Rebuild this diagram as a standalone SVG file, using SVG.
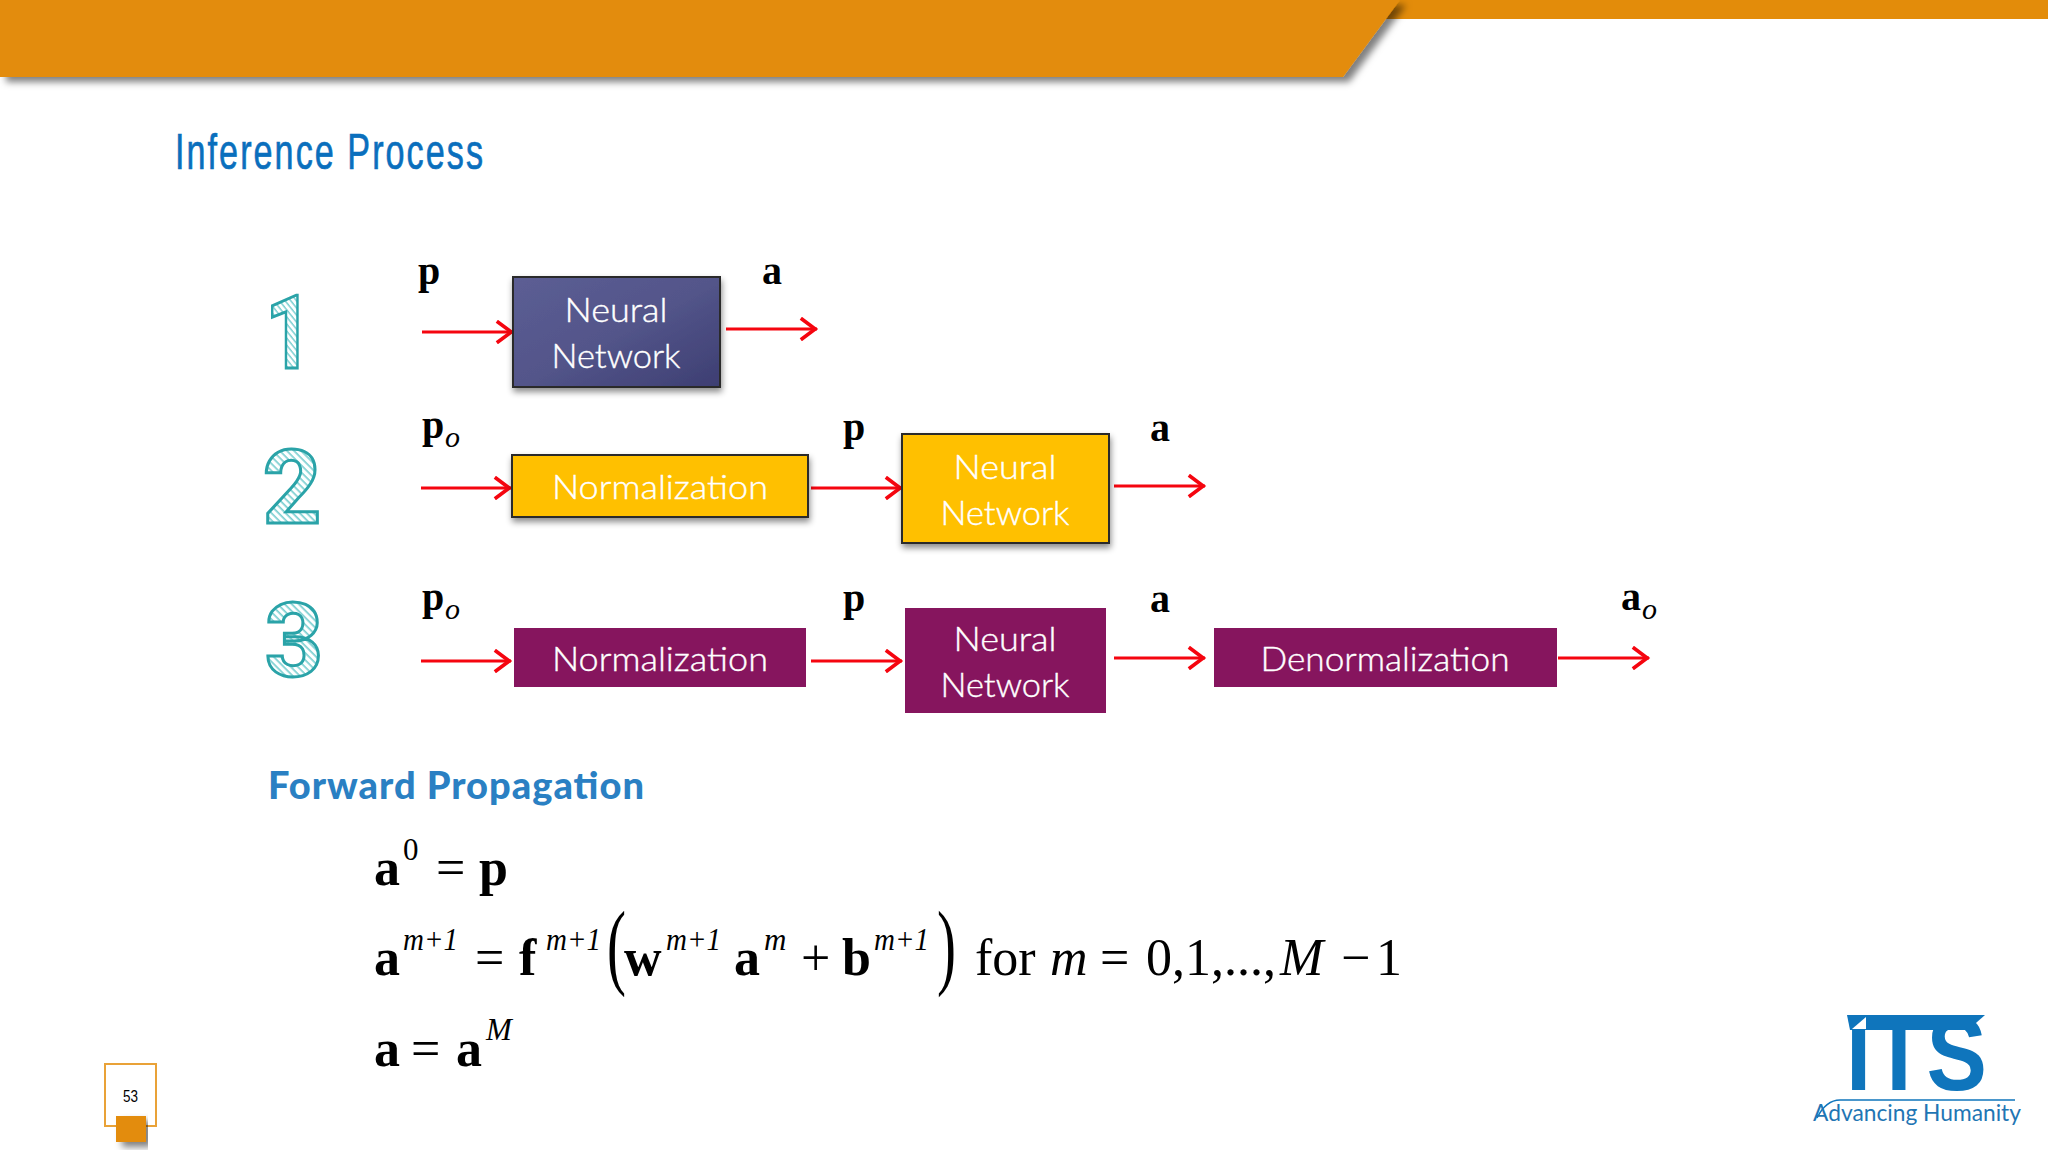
<svg xmlns="http://www.w3.org/2000/svg" width="2048" height="1152" viewBox="0 0 2048 1152">
<style>
.box{stroke:#2a2a2a;stroke-width:2}
.lbl{font-family:"Lato","Liberation Sans",sans-serif;font-weight:300;font-size:33px;fill:#fff;stroke:#fff;stroke-width:.4;text-anchor:middle}
.v{font-family:"Liberation Serif",serif;font-weight:bold;font-size:40px;fill:#000}
.s{font-family:"Liberation Serif",serif;font-style:italic;font-size:30px;fill:#000}
.e{font-family:"Liberation Serif",serif;font-size:52px;fill:#000}
.b{font-weight:bold}
.i{font-style:italic}
.u{font-size:31px}
.arr{stroke:#f5050f;stroke-width:3;fill:none;marker-end:url(#ah)}
.dig{font-family:"Roboto",sans-serif;font-weight:bold;font-size:102px;fill:url(#hatch);stroke:#2aa3a8;stroke-width:3;text-anchor:middle}
</style>
<defs>
<marker id="ah" markerUnits="userSpaceOnUse" markerWidth="24" markerHeight="24" refX="16.5" refY="10" viewBox="0 0 20 20" orient="auto"><path d="M3 1 L15 10 L3 19" fill="none" stroke="#f5050f" stroke-width="3"/></marker>
<pattern id="hatch" patternUnits="userSpaceOnUse" width="5" height="5" patternTransform="rotate(45)"><rect width="5" height="5" fill="#fff"/><rect width="5" height="1.7" fill="#7ccfd1"/></pattern>
<linearGradient id="nn" x1="0" y1="0" x2="1" y2="1"><stop offset="0" stop-color="#5c5e94"/><stop offset="0.5" stop-color="#53558a"/><stop offset="1" stop-color="#3d3e72"/></linearGradient>
<filter id="sh" x="-10%" y="-10%" width="125%" height="130%"><feDropShadow dx="1" dy="4" stdDeviation="3" flood-color="#000" flood-opacity="0.45"/></filter>
<filter id="shb" x="-5%" y="-10%" width="110%" height="140%"><feDropShadow dx="6" dy="5" stdDeviation="3.5" flood-color="#000" flood-opacity="0.5"/></filter>
</defs>
<rect width="2048" height="1152" fill="#fff"/>
<g id="header">
<rect x="1380" y="0" width="668" height="19" fill="#e38c0a"/>
<polygon points="0,0 1400,0 1343,77 0,77" fill="#e38c0a" filter="url(#shb)"/>
</g>
<text x="175" y="169" font-family="'Liberation Sans',sans-serif" font-size="50" letter-spacing="3" fill="#0a6fbd" stroke="#0a6fbd" stroke-width=".7" textLength="310" lengthAdjust="spacingAndGlyphs">Inference Process</text>
<g id="digits">
<text class="dig" transform="translate(289 368) scale(.8 1)">1</text>
<text class="dig" x="292" y="523">2</text>
<text class="dig" x="294" y="676">3</text>
</g>
<g id="connectors">
<path class="arr" d="M422 332H513"/>
<path class="arr" d="M726 329H817"/>
<path class="arr" d="M421 488H511"/>
<path class="arr" d="M811 488H902"/>
<path class="arr" d="M1114 486H1205"/>
<path class="arr" d="M421 661H511"/>
<path class="arr" d="M811 661H902"/>
<path class="arr" d="M1114 658H1205"/>
<path class="arr" d="M1558 658H1649"/>
</g>
<g id="n1-nn">
<rect class="box" x="513" y="277" width="207" height="110" fill="url(#nn)" filter="url(#sh)"/>
<text class="lbl" x="616" y="322" textLength="103" lengthAdjust="spacingAndGlyphs">Neural</text>
<text class="lbl" x="616" y="368" textLength="129" lengthAdjust="spacingAndGlyphs">Network</text>
</g>
<g id="n2-norm">
<rect class="box" x="512" y="455" width="296" height="62" fill="#ffc000" filter="url(#sh)"/>
<text class="lbl" x="660" y="499" textLength="216" lengthAdjust="spacingAndGlyphs">Normalization</text>
</g>
<g id="n2-nn">
<rect class="box" x="902" y="434" width="207" height="109" fill="#ffc000" filter="url(#sh)"/>
<text class="lbl" x="1005" y="479" textLength="103" lengthAdjust="spacingAndGlyphs">Neural</text>
<text class="lbl" x="1005" y="525" textLength="129" lengthAdjust="spacingAndGlyphs">Network</text>
</g>
<g id="n3-norm">
<rect x="514" y="628" width="292" height="59" fill="#86155e"/>
<text class="lbl" x="660" y="671" textLength="216" lengthAdjust="spacingAndGlyphs">Normalization</text>
</g>
<g id="n3-nn">
<rect x="905" y="608" width="201" height="105" fill="#86155e"/>
<text class="lbl" x="1005" y="651" textLength="103" lengthAdjust="spacingAndGlyphs">Neural</text>
<text class="lbl" x="1005" y="697" textLength="129" lengthAdjust="spacingAndGlyphs">Network</text>
</g>
<g id="n3-denorm">
<rect x="1214" y="628" width="343" height="59" fill="#86155e"/>
<text class="lbl" x="1385" y="671" textLength="249" lengthAdjust="spacingAndGlyphs">Denormalization</text>
</g>
<g id="signal-labels">
<text class="v" x="418" y="284">p</text>
<text class="v" x="762" y="284">a</text>
<text class="v" x="422" y="438">p</text><text class="s" x="445" y="447">o</text>
<text class="v" x="843" y="440">p</text>
<text class="v" x="1150" y="441">a</text>
<text class="v" x="422" y="610">p</text><text class="s" x="445" y="619">o</text>
<text class="v" x="843" y="611">p</text>
<text class="v" x="1150" y="612">a</text>
<text class="v" x="1621" y="610">a</text><text class="s" x="1642" y="619">o</text>
</g>
<text x="268" y="799" font-family="Lato,'Liberation Sans',sans-serif" font-weight="900" font-size="38" fill="#2a80c3" textLength="376" lengthAdjust="spacing">Forward Propagation</text>
<g id="equations">
<text class="e b" x="374" y="885">a</text><text class="e u" x="403" y="860">0</text><text class="e" x="436" y="885">=</text><text class="e b" x="479" y="885">p</text>
<text class="e b" x="374" y="975">a</text><text class="e u i" x="403" y="950" textLength="55" lengthAdjust="spacingAndGlyphs">m+1</text><text class="e" x="475" y="975">=</text><text class="e b" x="519" y="975">f</text><text class="e u i" x="546" y="950" textLength="55" lengthAdjust="spacingAndGlyphs">m+1</text>
<text class="e" transform="translate(607 977) scale(.6 1)" style="font-size:95px">(</text>
<text class="e b" x="624" y="975">w</text><text class="e u i" x="666" y="950" textLength="55" lengthAdjust="spacingAndGlyphs">m+1</text><text class="e b" x="734" y="975">a</text><text class="e u i" x="764" y="950">m</text><text class="e" x="801" y="975">+</text><text class="e b" x="842" y="975">b</text><text class="e u i" x="874" y="950" textLength="55" lengthAdjust="spacingAndGlyphs">m+1</text>
<text class="e" transform="translate(937 977) scale(.6 1)" style="font-size:95px">)</text>
<text class="e" x="975" y="975">for</text><text class="e i" x="1050" y="975">m</text><text class="e" x="1100" y="975">=</text><text class="e" x="1146" y="975">0,1,...,</text><text class="e i" x="1280" y="975">M</text><text class="e" x="1341" y="975">−</text><text class="e" x="1376" y="975">1</text>
<text class="e b" x="374" y="1066">a</text><text class="e" x="411" y="1066">=</text><text class="e b" x="456" y="1066">a</text><text class="e u i" x="486" y="1040">M</text>
</g>
<g id="page-number">
<rect x="105" y="1064" width="51" height="62" fill="#fff" stroke="#e9a238" stroke-width="2"/>
<text x="123" y="1102" font-family="'Liberation Sans',sans-serif" font-size="17" fill="#000" textLength="15" lengthAdjust="spacingAndGlyphs">53</text>
<rect x="116" y="1116" width="30" height="26" fill="#e38c0a" filter="url(#shb)"/>
</g>
<g id="logo" fill="#0f75bc">
<text x="1846" y="1090" font-family="'Liberation Sans',sans-serif" font-weight="bold" font-size="104" textLength="141" lengthAdjust="spacingAndGlyphs">ITS</text>
<polygon points="1847,1015 1985,1015 1968,1030 1850,1030"/>
<polygon points="1852,1029 1866,1017 1866,1029" fill="#fff"/>
<path d="M1817 1118 Q1826 1100 1840 1100 H2015" fill="none" stroke="#0f75bc" stroke-width="1.5"/>
<text x="1813" y="1121" font-family="Lato,'Liberation Sans',sans-serif" font-size="24" fill="#1f76b4" textLength="208" lengthAdjust="spacingAndGlyphs">Advancing Humanity</text>
</g>
</svg>
